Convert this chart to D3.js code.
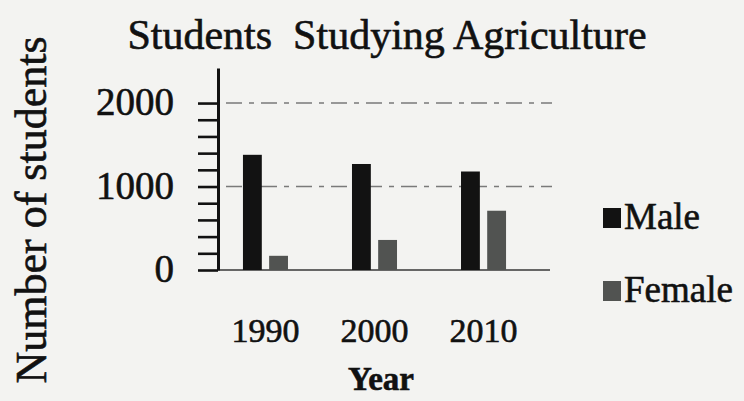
<!DOCTYPE html>
<html>
<head>
<meta charset="utf-8">
<script src="https://cdn.jsdelivr.net/npm/d3@7"></script>
<style>
  body { margin: 0; background: #f3f3f1; }
  svg { display: block; }
  text { font-family: "Liberation Serif", "Times New Roman", serif; fill: #111; stroke: #111; stroke-width: 0.6; }
</style>
</head>
<body>
<svg id="chart" width="744" height="401"></svg>
<script>
// data
var years = ["1990", "2000", "2010"];
var series = ["Male", "Female"];
var maleValues = [1380, 1270, 1180];
var femaleValues = [170, 360, 710];
var minorTicks = [0, 200, 400, 600, 800, 1000, 1200, 1400, 1600, 1800, 2000];
var labelTicks = [0, 1000, 2000];
var gridTicks = [1000, 2000];

var colors = { Male: "#121212", Female: "#515351" };

var svg = d3.select("#chart");

var x0 = d3.scaleBand()
    .domain(years)
    .range([200, 549])
    .paddingInner(0.587)
    .paddingOuter(0.394);

var x1 = d3.scaleBand()
    .domain(series)
    .range([0, x0.bandwidth()])
    .paddingInner(0.28);

var y = d3.scaleLinear()
    .domain([0, 2420])
    .range([270, 68]);

// dashed gridlines
svg.append("g")
    .selectAll("line")
    .data(gridTicks)
    .enter().append("line")
    .attr("x1", 226)
    .attr("x2", 552)
    .attr("y1", function (d) { return y(d); })
    .attr("y2", function (d) { return y(d); })
    .attr("stroke", "#7a7a7a")
    .attr("stroke-width", 1.6)
    .attr("stroke-dasharray", "16,7,5,7");

// baseline
svg.append("line")
    .attr("x1", 218).attr("x2", 550)
    .attr("y1", y(0)).attr("y2", y(0))
    .attr("stroke", "#666")
    .attr("stroke-width", 1.8);

// bars
var rows = years.map(function (yr, i) {
    return { year: yr, Male: maleValues[i], Female: femaleValues[i] };
});

svg.append("g")
    .selectAll("g")
    .data(rows)
    .enter().append("g")
    .attr("transform", function (d) { return "translate(" + x0(d.year) + ",0)"; })
    .selectAll("rect")
    .data(function (d) { return series.map(function (s) { return { key: s, value: d[s] }; }); })
    .enter().append("rect")
    .attr("x", function (d) { return x1(d.key); })
    .attr("y", function (d) { return y(d.value); })
    .attr("width", x1.bandwidth())
    .attr("height", function (d) { return y(0) - y(d.value); })
    .attr("fill", function (d) { return colors[d.key]; });

// y axis with minor ticks
var yAxis = svg.append("g")
    .attr("transform", "translate(218,0)")
    .call(d3.axisLeft(y).tickValues(minorTicks).tickSize(20).tickSizeOuter(0).tickFormat(""));
yAxis.select(".domain").attr("stroke", "#111").attr("stroke-width", 3);
yAxis.selectAll(".tick line").attr("stroke", "#111").attr("stroke-width", 2.6);

// y tick labels
var yLabels = svg.append("g")
    .attr("transform", "translate(218,0)")
    .call(d3.axisLeft(y).tickValues(labelTicks).tickSize(0).tickPadding(44).tickFormat(d3.format("d")));
yLabels.select(".domain").remove();
yLabels.selectAll("text")
    .style("font-family", "Liberation Serif, serif")
    .attr("font-size", 39)
    .attr("fill", "#111")
    .attr("dy", "0.3em");

// x axis labels
var xAxis = svg.append("g")
    .attr("transform", "translate(0," + y(0) + ")")
    .call(d3.axisBottom(x0).tickSize(0).tickPadding(48));
xAxis.select(".domain").remove();
xAxis.selectAll("text")
    .style("font-family", "Liberation Serif, serif")
    .attr("font-size", 34)
    .attr("fill", "#111");

// title
svg.append("text")
    .attr("x", 387)
    .attr("y", 49)
    .attr("text-anchor", "middle")
    .attr("font-size", 42)
    .attr("xml:space", "preserve")
    .text("Students  Studying Agriculture");

// axis titles
svg.append("text")
    .attr("x", 381)
    .attr("y", 390)
    .attr("text-anchor", "middle")
    .attr("font-size", 33)
    .attr("font-weight", "bold")
    .text("Year");

svg.append("text")
    .attr("transform", "translate(46,210) rotate(-90)")
    .attr("text-anchor", "middle")
    .attr("font-size", 44)
    .text("Number of students");

// legend
var legend = svg.append("g")
    .selectAll("g")
    .data(series)
    .enter().append("g")
    .attr("transform", function (d, i) { return "translate(603," + (208 + i * 73) + ")"; });

legend.append("rect")
    .attr("width", 18)
    .attr("height", 20)
    .attr("fill", function (d) { return colors[d]; });

legend.append("text")
    .attr("x", 21)
    .attr("y", 21)
    .attr("font-size", 37)
    .text(function (d) { return d; });
</script>
</body>
</html>
